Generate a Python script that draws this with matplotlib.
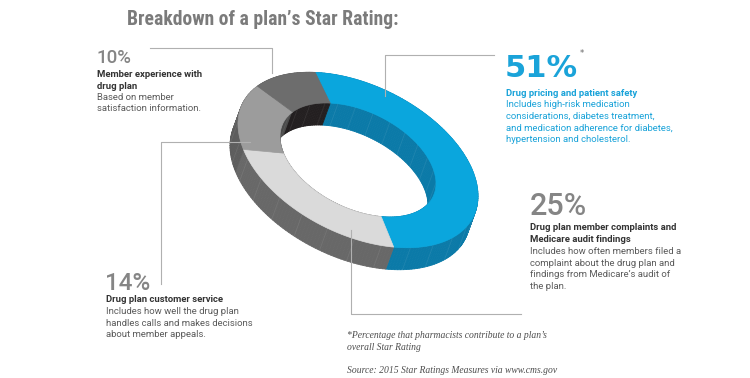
import numpy as np
import matplotlib
matplotlib.use("Agg")
import matplotlib.pyplot as plt
from matplotlib import font_manager as fm
from matplotlib.collections import PolyCollection

# chart data
labels = ["Drug pricing and patient safety",
          "Drug plan member complaints and Medicare audit findings",
          "Drug plan customer service",
          "Member experience with drug plan"]
shares = [51, 25, 14, 10]
top_colors = ["#0aa6dd", "#dadada", "#9c9c9c", "#6d6d6d"]
outer_wall_colors = ["#0b7aa8", "#686868", "#5d5d5d", "#555555"]
inner_wall_colors = ["#0b7aa8", "#6a6a6a", "#4a4a4a", "#231f20"]

title = "Breakdown of a plan\u2019s Star Rating:"
pct_labels = ["51%", "25%", "14%", "10%"]
heads = [["Drug pricing and patient safety"],
         ["Drug plan member complaints and", "Medicare audit findings"],
         ["Drug plan customer service"],
         ["Member experience with", "drug plan"]]
bodies = [["Includes high-risk medication",
           "considerations, diabetes treatment,",
           "and medication adherence for diabetes,",
           "hypertension and cholesterol."],
          ["Includes how often members filed a",
           "complaint about the drug plan and",
           "findings from Medicare\u2019s audit of",
           "the plan."],
          ["Includes how well the drug plan",
           "handles calls and makes decisions",
           "about member appeals."],
          ["Based on member",
           "satisfaction information."]]
footnote = ["*Percentage that pharmacists contribute to a plan\u2019s",
            "overall Star Rating"]
source = "Source: 2015 Star Ratings Measures via www.cms.gov"


def pick_condensed():
    fonts = [(f.name, f.stretch) for f in fm.fontManager.ttflist]
    for name in ["Liberation Sans Narrow", "Roboto Condensed", "Open Sans Condensed"]:
        if any(n == name for n, s in fonts):
            return dict(family=name)
    if any(n == "DejaVu Sans" and s in ("condensed", "semi-condensed") for n, s in fonts):
        return dict(family="DejaVu Sans", stretch="condensed")
    return dict(family="Roboto")


fig = plt.figure(figsize=(7.5, 3.78), dpi=100)
ax = fig.add_axes([0, 0, 1, 1])
ax.set_xlim(0, 750)
ax.set_ylim(378, 0)
ax.axis("off")

# tilted ring geometry (pixel space)
cx, cy = 358, 160
M = np.array([[120, 0], [36, 80]])
depth = np.array([-8, 22])
r_in = 0.65
t0 = np.deg2rad(-110.9)


def pts(t, r):
    v = np.stack([np.cos(t), np.sin(t)]) * r
    p = M @ v
    return np.column_stack([cx + p[0], cy + p[1]])


bounds = t0 + np.concatenate([[0], np.cumsum(shares)]) / sum(shares) * 2 * np.pi


def wall(a, b, r):
    t = np.linspace(a, b, max(int(np.degrees(b - a) / 1.5), 2))
    p = pts(t, r)
    q = p + depth
    return [np.array([p[i], p[i + 1], q[i + 1], q[i]]) for i in range(len(t) - 1)]


# inner walls, then outer walls, then top faces
z = 1.0
for r, cols in [(r_in, inner_wall_colors), (1.0, outer_wall_colors)]:
    for i in range(len(shares)):
        quads = wall(bounds[i], bounds[i + 1], r)
        ax.add_collection(PolyCollection(quads, facecolors=cols[i],
                                         edgecolors=cols[i], linewidths=0.6,
                                         zorder=z))
        # faint seams on the walls
        for t in np.arange(bounds[i] + np.deg2rad(6), bounds[i + 1], np.deg2rad(13)):
            p = pts(np.array([t]), r)[0]
            ax.plot([p[0], p[0] + depth[0]], [p[1], p[1] + depth[1]],
                    color="white", alpha=0.08, lw=0.6, zorder=z + 0.1)
    z += 1

for i in range(len(shares)):
    t = np.linspace(bounds[i], bounds[i + 1], 200)
    poly = np.vstack([pts(t, 1.0), pts(t[::-1], r_in)])
    ax.add_patch(plt.Polygon(poly, closed=True, facecolor=top_colors[i],
                             edgecolor=top_colors[i], lw=0.5, zorder=4))

# leader lines
lc = dict(color="#b0b0b0", lw=0.8, zorder=5)
ax.plot([385, 385, 494], [96, 55, 55], **lc)
ax.plot([351, 351, 521], [230, 314, 314], **lc)
ax.plot([250, 161, 161], [142, 142, 284], **lc)
ax.plot([150, 272, 272], [48, 48, 73], **lc)

# title
cond = pick_condensed()
tt = ax.text(127, 25, title, fontsize=13.5, fontweight="bold", color="#7b7b7b",
             va="baseline", ha="left", **cond)
fig.canvas.draw()
w = tt.get_window_extent().width
tt.set_fontsize(13.5 * 270 / w)

blue = "#1aa3d9"
dark = "#333333"
grey = "#5a5a5a"
pct_grey = "#858585"
body = dict(fontsize=6.8, family="Roboto", va="baseline", ha="left")
lh = 11.6

# 51%
ax.text(505, 77, pct_labels[0], fontsize=22, fontweight="bold", color=blue,
        family="DejaVu Sans", va="baseline")
ax.text(580, 56, "*", fontsize=6, color="#666666", family="DejaVu Sans", va="baseline")
ax.text(506, 95.5, heads[0][0], color=blue, fontweight="bold", **body)
for k, s in enumerate(bodies[0]):
    ax.text(506, 107 + k * lh, s, color=blue, **body)

# 25%
ax.text(530, 215, pct_labels[1], fontsize=22, color=pct_grey, family="Roboto",
        fontweight="medium", va="baseline")
for k, s in enumerate(heads[1]):
    ax.text(530, 230.5 + k * lh, s, color=dark, fontweight="bold", **body)
for k, s in enumerate(bodies[1]):
    ax.text(530, 254 + k * lh, s, color=grey, **body)

# 14%
ax.text(105, 290, pct_labels[2], fontsize=17.5, color=pct_grey, family="Roboto",
        fontweight="medium", va="baseline")
ax.text(106, 302, heads[2][0], color=dark, fontweight="bold", **body)
for k, s in enumerate(bodies[2]):
    ax.text(106, 314 + k * lh, s, color=grey, **body)

# 10%
ax.text(96, 63, pct_labels[3], fontsize=13.5, color=pct_grey, family="Roboto",
        fontweight="medium", va="baseline")
for k, s in enumerate(heads[3]):
    ax.text(97, 77 + k * lh, s, color=dark, fontweight="bold", **body)
for k, s in enumerate(bodies[3]):
    ax.text(97, 99.5 + k * lh, s, color=grey, **body)

# footnotes
serif = dict(fontsize=6.9, family="Liberation Serif", style="italic",
             color="#4d4d4d", va="baseline", ha="left")
for k, s in enumerate(footnote):
    ax.text(347, 338 + k * 12.5, s, **serif)
ax.text(347, 373, source, **serif)

fig.savefig("out.png", dpi=100, facecolor="white")
